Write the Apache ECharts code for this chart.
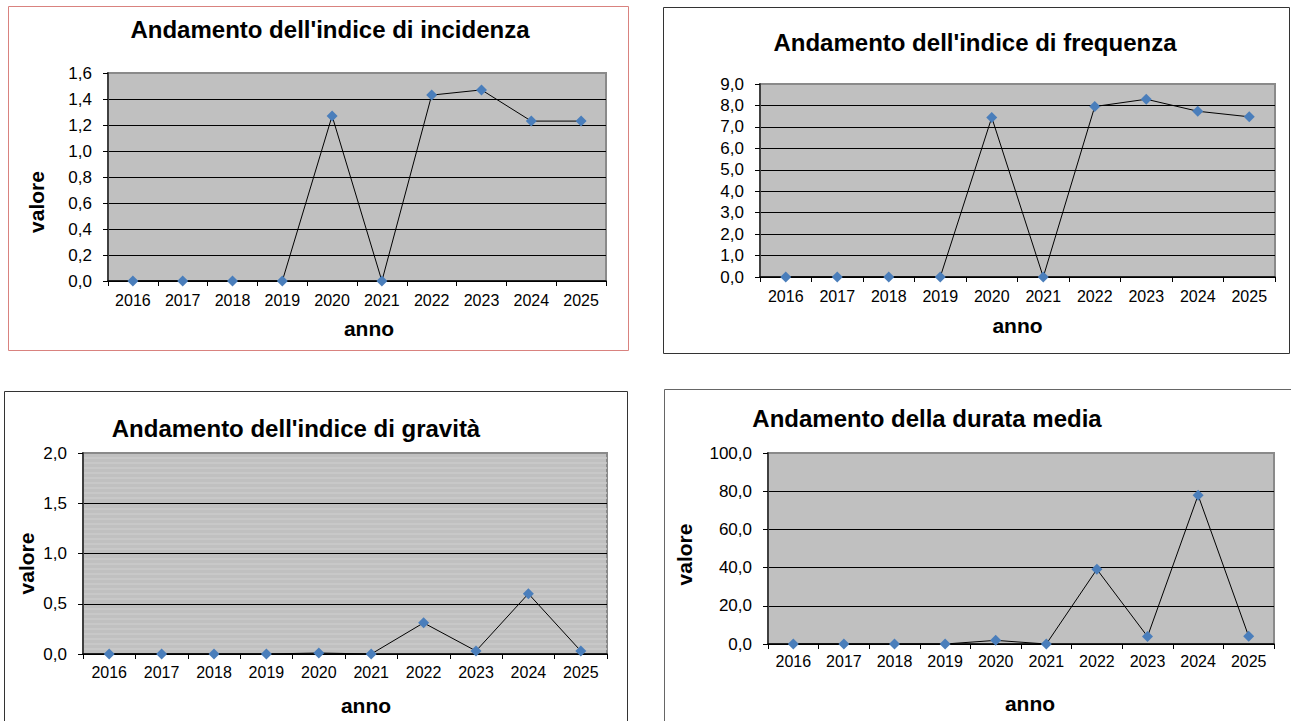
<!DOCTYPE html>
<html>
<head>
<meta charset="utf-8">
<script src="https://cdn.jsdelivr.net/npm/echarts@6/dist/echarts.min.js"></script>
<style>
html,body{margin:0;padding:0;background:#fff;}
#c{width:1291px;height:721px;}
</style>
</head>
<body>
<div id="c"></div>
<script>
// ---- data ----
const years = ['2016','2017','2018','2019','2020','2021','2022','2023','2024','2025'];
const incidenza = [0, 0, 0, 0, 1.27, 0, 1.43, 1.47, 1.23, 1.23];
const frequenza = [0, 0, 0, 0, 7.44, 0, 7.95, 8.29, 7.73, 7.47];
const gravita   = [0, 0, 0, 0, 0.01, 0, 0.31, 0.03, 0.60, 0.03];
const durata    = [0, 0, 0, 0, 1.9, 0, 39.1, 3.9, 77.9, 4.0];
const titles = [
  "Andamento dell'indice di incidenza",
  "Andamento dell'indice di frequenza",
  "Andamento dell'indice di gravità",
  "Andamento della durata media"
];
const yMax = [1.6, 9, 2, 100];
const yStep = [0.2, 1, 0.5, 20];
const xName = 'anno';
const yName = 'valore';

// ---- layout ----
const FONT = '"Liberation Sans", Arial, sans-serif';
const panels = [
  {grid:{left:108, top:73, width:498, height:208}, title:[330,29.5], box:[8.5,6.5,620,344], boxColor:'#d9827f',
   yName:true, yGap:61, yPad:[0,50,0,0], xGap:37, xPad:[0,0,0,24], xMargin:11},
  {grid:{left:760, top:84, width:515, height:193}, title:[975,42], box:[663.5,7.5,626,346], boxColor:'#333',
   yName:false, xGap:38, xPad:[0,0,0,0], xMargin:11},
  {grid:{left:83, top:453, width:524, height:201}, title:[296,428], box:[4.5,391.5,623,340], boxColor:'#333',
   yName:true, yGap:46, yPad:[0,20,0,0], xGap:41, xPad:[0,0,0,42], xMargin:10, stripes:true},
  {grid:{left:768, top:453, width:506, height:191}, title:[927,418], box:[664.5,389.5,640,340], boxColor:'#666',
   yName:true, yGap:73, yPad:[0,12,0,0], xGap:49, xPad:[0,0,0,18], xMargin:9}
];
const seriesData = [incidenza, frequenza, gravita, durata];

const fmt = v => v.toFixed(1).replace('.', ',');

const option = {
  animation: false,
  backgroundColor: '#fff',
  textStyle: {fontFamily: FONT},
  title: panels.map((p, i) => ({
    text: titles[i],
    left: p.title[0] - 5,
    top: p.title[1] - 5,
    textAlign: 'center',
    textVerticalAlign: 'middle',
    textStyle: {fontFamily: FONT, fontSize: 24, fontWeight: 'bold', color: '#000'}
  })),
  graphic: panels.map(p => ({
    type: 'rect',
    shape: {x: p.box[0], y: p.box[1], width: p.box[2], height: p.box[3]},
    style: {fill: 'none', stroke: p.boxColor, lineWidth: 1},
    silent: true,
    z: -10
  })),
  grid: panels.map(p => Object.assign({
    show: true, backgroundColor: '#c0c0c0', borderColor: '#8a8a8a', borderWidth: 2
  }, p.grid)),
  xAxis: panels.map((p, i) => ({
    type: 'category',
    gridIndex: i,
    data: years,
    boundaryGap: true,
    name: xName,
    nameLocation: 'middle',
    nameGap: p.xGap,
    nameTextStyle: {fontFamily: FONT, fontSize: 21, fontWeight: 'bold', color: '#000', padding: p.xPad, verticalAlign: 'top'},
    axisLine: {show: true, lineStyle: {color: '#000', width: 1.5}},
    axisTick: {show: true, alignWithLabel: false, length: 5, lineStyle: {color: '#000', width: 1}},
    axisLabel: {fontFamily: FONT, fontSize: 16, color: '#000', margin: p.xMargin, interval: 0},
    splitLine: {show: false}
  })),
  yAxis: panels.map((p, i) => ({
    type: 'value',
    gridIndex: i,
    min: 0,
    max: yMax[i],
    interval: yStep[i],
    name: p.yName ? yName : '',
    nameLocation: 'middle',
    nameRotate: 90,
    nameGap: p.yGap || 50,
    nameTextStyle: {fontFamily: FONT, fontSize: 21, fontWeight: 'bold', color: '#000', padding: p.yPad || 0},
    axisLine: {show: true, onZero: false, lineStyle: {color: '#404040', width: 2}},
    axisTick: {show: true, length: 5, lineStyle: {color: '#000', width: 1}},
    axisLabel: {fontFamily: FONT, fontSize: 17, color: '#000', margin: 16, formatter: fmt},
    splitLine: {show: true, showMaxLine: false, lineStyle: {color: '#000', width: 1}},
    minorTick: {show: false, splitNumber: 10},
    minorSplitLine: {show: !!p.stripes, lineStyle: {color: '#cbcbcb', width: 1.5}}
  })),
  series: seriesData.map((d, i) => ({
    type: 'line',
    xAxisIndex: i,
    yAxisIndex: i,
    data: d,
    symbol: 'diamond',
    symbolSize: 11,
    showSymbol: true,
    lineStyle: {color: '#000', width: 1},
    itemStyle: {color: '#4a7ebb'},
    z: 5
  }))
};

const chart = echarts.init(document.getElementById('c'), null, {renderer: 'svg'});
chart.setOption(option);
</script>
</body>
</html>
